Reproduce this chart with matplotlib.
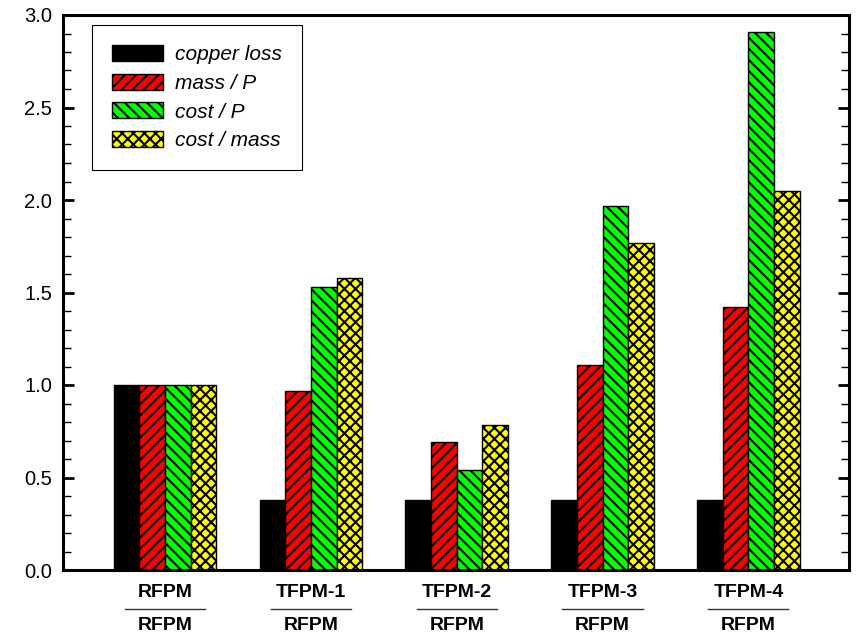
import matplotlib
matplotlib.use("Agg")
import matplotlib.pyplot as plt
import matplotlib.transforms as mtransforms
from matplotlib.ticker import MultipleLocator
import numpy as np

plt.rcParams['font.family'] = ['Liberation Sans', 'DejaVu Sans']
plt.rcParams['hatch.linewidth'] = 1.5

groups_top = ["RFPM", "TFPM-1", "TFPM-2", "TFPM-3", "TFPM-4"]
groups_bottom = ["RFPM", "RFPM", "RFPM", "RFPM", "RFPM"]
series_names = ["copper loss", "mass / P", "cost / P", "cost / mass"]
copper_loss = [1.0, 0.38, 0.38, 0.38, 0.38]
mass_per_p = [1.0, 0.97, 0.69, 1.11, 1.42]
cost_per_p = [1.0, 1.53, 0.54, 1.97, 2.91]
cost_per_mass = [1.0, 1.58, 0.785, 1.77, 2.05]

series = [copper_loss, mass_per_p, cost_per_p, cost_per_mass]
colors = ["black", "#FF0000", "#00FF00", "#FFFF00"]
hatches = [None, "///", "\\\\\\", "xxx"]

fig = plt.figure(figsize=(8.58, 6.38), dpi=100)
ax = fig.add_axes([63/858, 1-570/638, (849-63)/858, (570-15)/638])

x = np.arange(len(groups_top))
w = 0.176
for i, (vals, c, h, name) in enumerate(zip(series, colors, hatches, series_names)):
    ax.bar(x + (i - 1.5) * w, vals, width=w, color=c, edgecolor="black",
           linewidth=1.0, hatch=h, label=name, zorder=2)

ax.set_xlim(-0.70, 4.69)
ax.set_ylim(0, 3.0)
ax.yaxis.set_major_locator(MultipleLocator(0.5))
ax.yaxis.set_minor_locator(MultipleLocator(0.1))
ax.set_yticks([0, 0.5, 1.0, 1.5, 2.0, 2.5, 3.0])
ax.set_yticklabels(["0.0", "0.5", "1.0", "1.5", "2.0", "2.5", "3.0"], fontsize=14.5)
ax.tick_params(axis="y", which="major", direction="in", length=8, width=2, left=True, right=True, pad=8)
ax.tick_params(axis="y", which="minor", direction="in", length=5.5, width=1, left=True, right=True)
ax.set_xticks(x)
ax.set_xticklabels([])
ax.tick_params(axis="x", which="both", length=0)
for s in ax.spines.values():
    s.set_linewidth(2.2)

trans = mtransforms.blended_transform_factory(ax.transData, ax.transAxes)
for xi, top, bot in zip(x, groups_top, groups_bottom):
    ax.text(xi, -0.041, top, transform=trans, ha="center", va="center",
            fontsize=14, fontweight="bold")
    ax.plot([xi - 0.275, xi + 0.275], [-0.0703, -0.0703], transform=trans,
            color="#333333", linewidth=1.0, clip_on=False)
    ax.text(xi, -0.1, bot, transform=trans, ha="center", va="center",
            fontsize=14, fontweight="bold")

leg = ax.legend(loc="upper left", bbox_to_anchor=((92-63)/786, (570-25)/555),
                borderaxespad=0, fancybox=False, framealpha=1, edgecolor="black",
                prop={"style": "italic", "size": 15}, handlelength=2.45,
                handleheight=0.82, handletextpad=0.58, labelspacing=0.45,
                borderpad=0.95)
leg.get_frame().set_linewidth(0.8)

fig.savefig("out.png", dpi=100)
